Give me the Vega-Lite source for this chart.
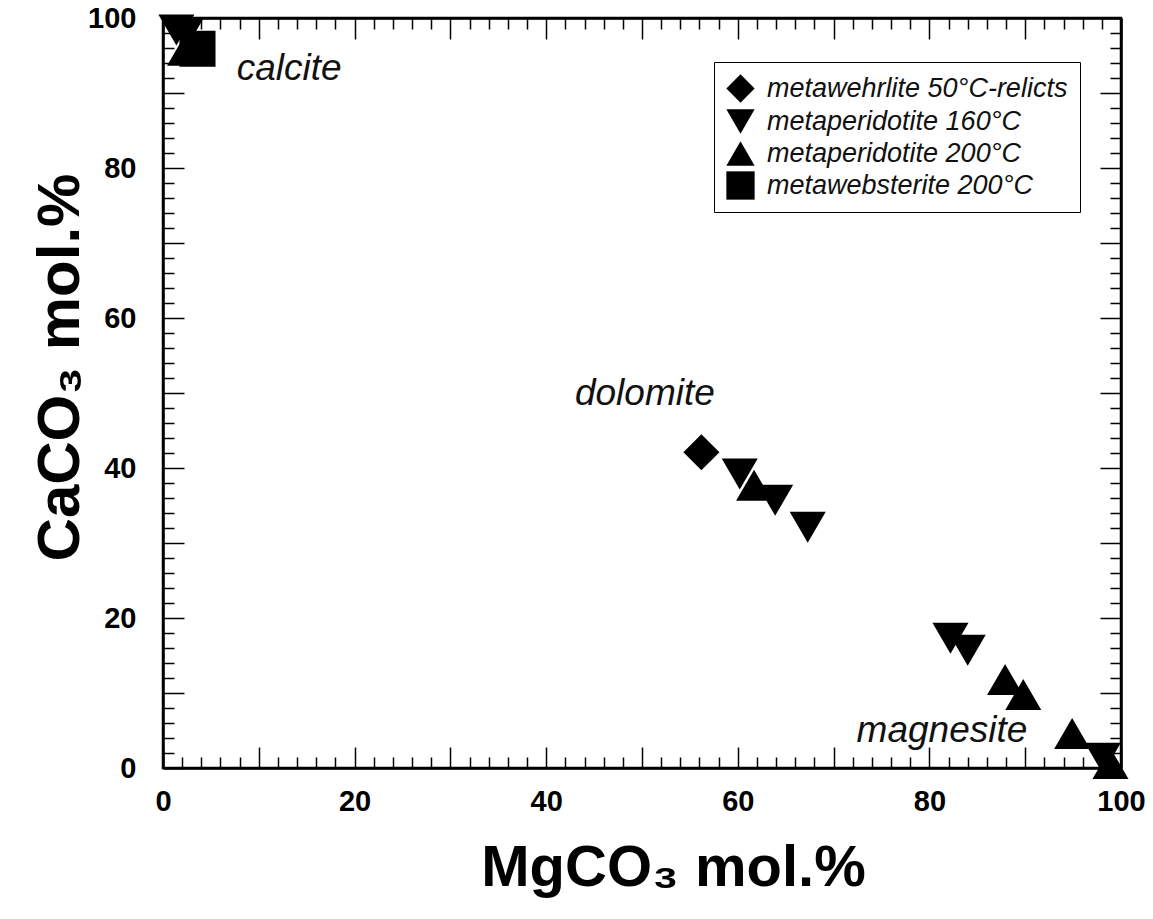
{
  "$schema": "https://vega.github.io/schema/vega-lite/v6.json",
  "width": 958,
  "height": 750,
  "autosize": {"type": "none"},
  "padding": {"left": 163, "top": 18, "right": 32, "bottom": 151},
  "background": "white",
  "config": {"view": {"stroke": "black", "strokeWidth": 2.5, "fill": "white"}},
  "layer": [
    {
      "data": {
        "values": [
          {"type": "metaperidotite 160°C", "MgCO3": 1.4, "CaCO3": 98.4},
          {"type": "metaperidotite 160°C", "MgCO3": 2.4, "CaCO3": 98.0},
          {"type": "metaperidotite 200°C", "MgCO3": 2.3, "CaCO3": 95.7},
          {"type": "metawebsterite 200°C", "MgCO3": 3.6, "CaCO3": 95.9},
          {"type": "metawehrlite 50°C-relicts", "MgCO3": 56.2, "CaCO3": 42.1},
          {"type": "metaperidotite 160°C", "MgCO3": 60.2, "CaCO3": 39.2},
          {"type": "metaperidotite 200°C", "MgCO3": 61.7, "CaCO3": 37.7},
          {"type": "metaperidotite 160°C", "MgCO3": 63.9, "CaCO3": 35.7},
          {"type": "metaperidotite 160°C", "MgCO3": 67.3, "CaCO3": 32.1},
          {"type": "metaperidotite 160°C", "MgCO3": 82.2, "CaCO3": 17.3},
          {"type": "metaperidotite 160°C", "MgCO3": 84.0, "CaCO3": 15.7},
          {"type": "metaperidotite 200°C", "MgCO3": 87.9, "CaCO3": 11.8},
          {"type": "metaperidotite 200°C", "MgCO3": 89.8, "CaCO3": 9.8},
          {"type": "metaperidotite 200°C", "MgCO3": 94.9, "CaCO3": 4.6},
          {"type": "metaperidotite 160°C", "MgCO3": 98.1, "CaCO3": 1.3},
          {"type": "metaperidotite 200°C", "MgCO3": 98.9, "CaCO3": 0.6}
        ]
      },
      "mark": {"type": "point", "filled": true, "opacity": 1, "size": 1300, "color": "black", "strokeWidth": 0},
      "encoding": {
        "x": {
          "field": "MgCO3", "type": "quantitative",
          "scale": {"domain": [0, 100], "nice": false, "zero": false},
          "axis": {
            "orient": "bottom",
            "title": "MgCO₃ mol.%",
            "values": [0,2,4,6,8,10,12,14,16,18,20,22,24,26,28,30,32,34,36,38,40,42,44,46,48,50,52,54,56,58,60,62,64,66,68,70,72,74,76,78,80,82,84,86,88,90,92,94,96,98,100],
            "labelExpr": "datum.value % 20 === 0 ? datum.label : ''",
            "tickSize": {"condition": {"test": "datum.value % 10 === 0", "value": -21}, "value": -11},
            "tickColor": "black", "tickWidth": 1.5,
            "domainColor": "black", "domainWidth": 2.5,
            "grid": false,
            "labelFont": "Liberation Sans", "labelFontWeight": "bold", "labelFontSize": 29, "labelColor": "black",
            "labelPadding": 40, "labelFlush": false, "labelOverlap": false, "labelBaseline": "top",
            "titleFont": "Liberation Sans", "titleFontSize": 58, "titleFontWeight": "bold", "titleColor": "black",
            "titleX": 510, "titleY": 117, "titleBaseline": "alphabetic", "titleAlign": "center"
          }
        },
        "y": {
          "field": "CaCO3", "type": "quantitative",
          "scale": {"domain": [0, 100], "nice": false, "zero": false},
          "axis": {
            "orient": "left",
            "title": "CaCO₃ mol.%",
            "values": [0,2,4,6,8,10,12,14,16,18,20,22,24,26,28,30,32,34,36,38,40,42,44,46,48,50,52,54,56,58,60,62,64,66,68,70,72,74,76,78,80,82,84,86,88,90,92,94,96,98,100],
            "labelExpr": "datum.value % 20 === 0 ? datum.label : ''",
            "tickSize": {"condition": {"test": "datum.value % 10 === 0", "value": -21}, "value": -11},
            "tickColor": "black", "tickWidth": 1.5,
            "domainColor": "black", "domainWidth": 2.5,
            "grid": false,
            "labelFont": "Liberation Sans", "labelFontWeight": "bold", "labelFontSize": 29, "labelColor": "black",
            "labelPadding": 48, "labelFlush": false, "labelOverlap": false, "labelBaseline": "middle",
            "titleFont": "Liberation Sans", "titleFontSize": 60, "titleFontWeight": "bold", "titleColor": "black",
            "titleAngle": -90, "titleX": -85, "titleY": 349, "titleBaseline": "alphabetic", "titleAlign": "center"
          }
        },
        "shape": {
          "field": "type", "type": "nominal",
          "scale": {
            "domain": ["metawehrlite 50°C-relicts", "metaperidotite 160°C", "metaperidotite 200°C", "metawebsterite 200°C"],
            "range": ["diamond", "triangle-down", "triangle-up", "square"]
          },
          "legend": {
            "orient": "none", "legendX": 551, "legendY": 44, "title": null,
            "strokeColor": "black", "fillColor": "white", "padding": 12,
            "symbolSize": 800, "symbolFillColor": "black", "symbolStrokeColor": "black", "symbolStrokeWidth": 0, "symbolOpacity": 1,
            "labelFont": "Liberation Sans", "labelFontStyle": "italic", "labelFontSize": 27, "labelColor": "#111111",
            "labelOffset": 12, "rowPadding": 4, "labelLimit": 500
          }
        }
      }
    },
    {
      "data": {
        "values": [
          {"label": "calcite", "x": 7.7, "y": 91.7},
          {"label": "dolomite", "x": 43.0, "y": 48.4},
          {"label": "magnesite", "x": 72.4, "y": 3.5}
        ]
      },
      "mark": {"type": "text", "align": "left", "baseline": "alphabetic", "font": "Liberation Sans", "fontStyle": "italic", "fontSize": 37, "color": "#111111"},
      "encoding": {
        "x": {
          "field": "x", "type": "quantitative",
          "scale": {"domain": [0, 100], "nice": false, "zero": false},
          "axis": {
            "orient": "top", "title": null, "labels": false,
            "values": [0,2,4,6,8,10,12,14,16,18,20,22,24,26,28,30,32,34,36,38,40,42,44,46,48,50,52,54,56,58,60,62,64,66,68,70,72,74,76,78,80,82,84,86,88,90,92,94,96,98,100],
            "tickSize": {"condition": {"test": "datum.value % 10 === 0", "value": -21}, "value": -11},
            "tickColor": "black", "tickWidth": 1.5,
            "domainColor": "black", "domainWidth": 2.5, "grid": false
          }
        },
        "y": {
          "field": "y", "type": "quantitative",
          "scale": {"domain": [0, 100], "nice": false, "zero": false},
          "axis": {
            "orient": "right", "title": null, "labels": false,
            "values": [0,2,4,6,8,10,12,14,16,18,20,22,24,26,28,30,32,34,36,38,40,42,44,46,48,50,52,54,56,58,60,62,64,66,68,70,72,74,76,78,80,82,84,86,88,90,92,94,96,98,100],
            "tickSize": {"condition": {"test": "datum.value % 10 === 0", "value": -21}, "value": -11},
            "tickColor": "black", "tickWidth": 1.5,
            "domainColor": "black", "domainWidth": 2.5, "grid": false
          }
        },
        "text": {"field": "label", "type": "nominal"}
      }
    }
  ],
  "resolve": {"axis": {"x": "independent", "y": "independent"}}
}
